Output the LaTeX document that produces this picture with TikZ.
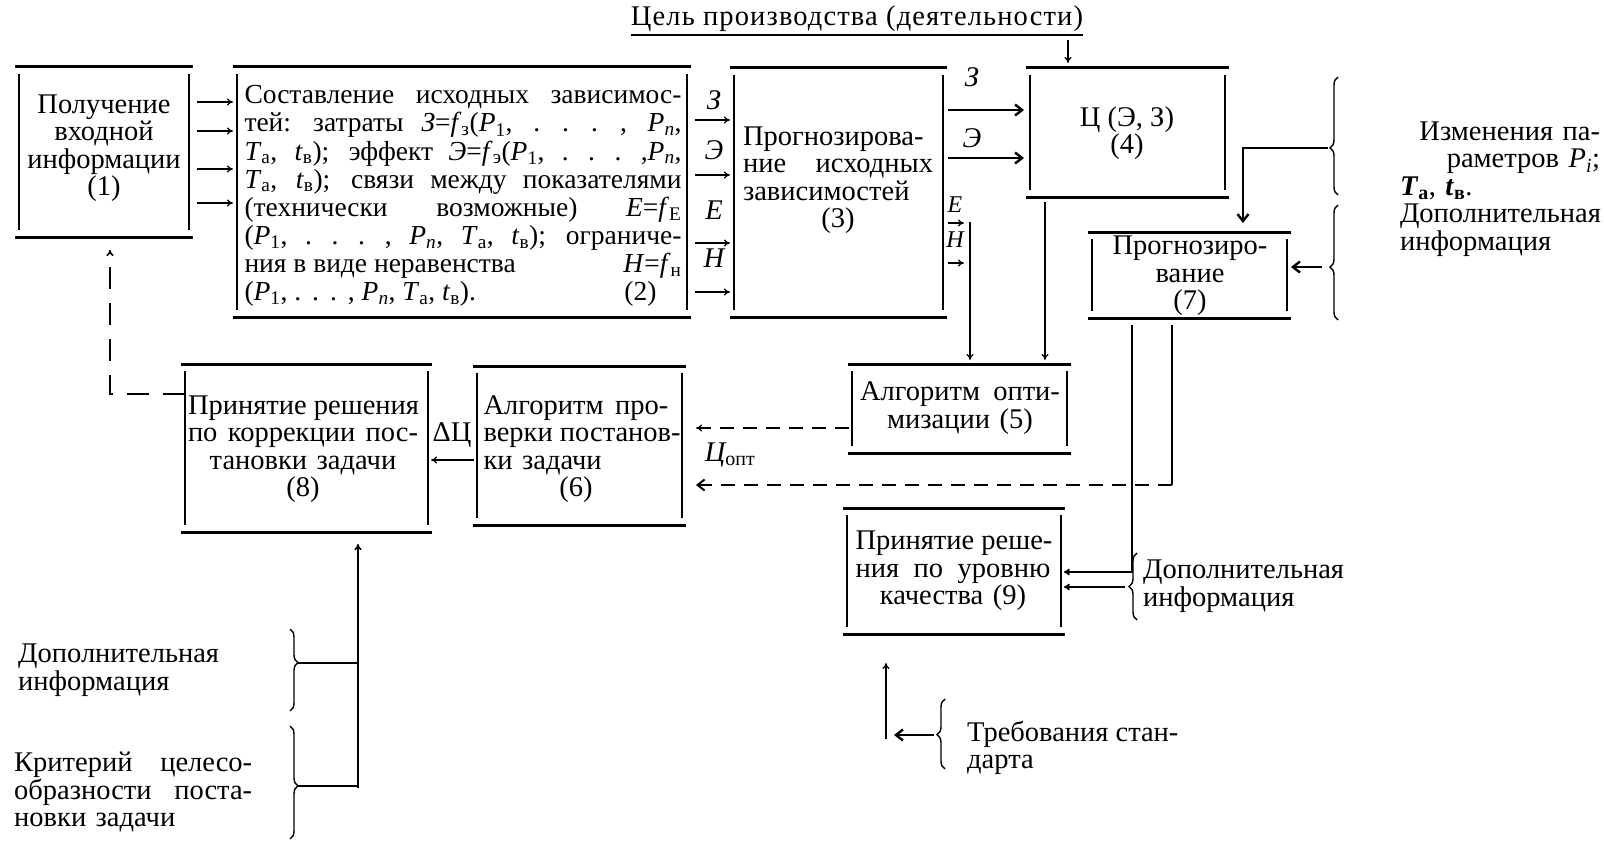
\documentclass[tikz,border=0pt]{standalone}
\usepackage{fontspec}
\setmainfont{Liberation Serif}
\newfontfamily\titlefont[LetterSpace=4]{Liberation Serif}
\usetikzlibrary{arrows.meta,decorations.pathreplacing}

\newcommand{\bodyfont}{\fontsize{28.5}{27.5}\selectfont}
\newcommand{\densefont}{\fontsize{27.5}{28.1}\selectfont}
\newcommand{\smallfont}{\fontsize{24}{24}\selectfont}
% justified line: interword spaces stretch to the full width
\newcommand{\jline}[1]{{\spaceskip=0.25em plus 1fil\relax\xspaceskip=0.4em plus 1fil\relax
    \makebox[\hsize][s]{#1}}}
\newcommand{\lline}[1]{\makebox[\hsize][l]{#1}} % left line
\newcommand{\rline}[1]{\makebox[\hsize][r]{#1}} % right line
\newcommand{\ivar}[1]{\textit{#1}}
\newcommand{\subs}[1]{\textsubscript{#1}}

\begin{document}
\begin{tikzpicture}[
    x=1pt, y=-1pt,
    every node/.style={font=\bodyfont, inner sep=0pt},
    blk/.style={rectangle, inner sep=0pt, outer sep=0pt},
    txt/.style={align=center},
    lbl/.style={font=\bodyfont\itshape},
    small lbl/.style={font=\smallfont\itshape},
    blkbar/.style={line width=3pt},
    blkside/.style={line width=2pt},
    link/.style={line width=1.1pt, -{To[length=6pt,width=7pt]}},
    heavy link/.style={line width=2.4pt, -{Straight Barb[length=7pt,width=11pt]}},
    wire/.style={line width=2pt},
    dash link/.style={link, dash pattern=on 14pt off 9pt},
    dash heavy/.style={heavy link, line width=2pt, dash pattern=on 14pt off 9pt},
    lbrace/.style={decorate, decoration={brace, amplitude=8pt, aspect=#1}, line width=1.4pt}
]
\useasboundingbox (0,0) rectangle (1604,843);

%================BLOCKS================
% name / left / top / right / bottom (px of the scan)
\foreach \bx/\lf/\tp/\rt/\bt in {b1/19/67/189/237, b2/237/67/687/317,
    b3/734/68/943/317, b4/1030/68/1225/197, b5/852/364/1067/453,
    b6/477/366/682/525, b7/1092/232/1287/318, b8/185/364/428/532,
    b9/847/508/1061/634} {
    \node[blk, minimum width={(\rt-\lf)*1pt}, minimum height={(\bt-\tp)*1pt}]
        (\bx) at ({(\lf+\rt)/2},{(\tp+\bt)/2}) {};
    \draw[blkbar] ([xshift=-4pt]\bx.north west) -- ([xshift=4pt]\bx.north east);
    \draw[blkbar] ([xshift=-4pt]\bx.south west) -- ([xshift=4pt]\bx.south east);
    \draw[blkside] ([yshift=-7pt]\bx.north west) -- ([yshift=7pt]\bx.south west);
    \draw[blkside] ([yshift=-7pt]\bx.north east) -- ([yshift=7pt]\bx.south east);
}

% --- block texts ---
\node[txt] (t1) at (104,148) {Получение\\входной\\информации\\(1)};
\node[txt, font=\densefont, text width=437pt] (t2) at (463,196) {%
    \jline{Составление исходных зависимос-}\\
    \jline{тей: затраты \ivar{З}=\ivar{f}\subs{з}(\ivar{P}\subs{1}, . . . , \ivar{P}\subs{\ivar{n}},}\\
    \jline{\ivar{T}\subs{а}, \ivar{t}\subs{в}); эффект \ivar{Э}=\ivar{f}\subs{э}(\ivar{P}\subs{1}, . . . ,\ivar{P}\subs{\ivar{n}},}\\
    \jline{\ivar{T}\subs{а}, \ivar{t}\subs{в}); связи между показателями}\\
    \jline{(технически возможные) \ivar{E}=\ivar{f}\subs{E}}\\
    \jline{(\ivar{P}\subs{1}, . . . , \ivar{P}\subs{\ivar{n}}, \ivar{T}\subs{а}, \ivar{t}\subs{в}); ограниче-}\\
    \jline{ния в виде неравенства\hfill\ivar{H}=\ivar{f}\subs{н}}\\
    \jline{(\ivar{P}\subs{1}, . . . , \ivar{P}\subs{\ivar{n}}, \ivar{T}\subs{а}, \ivar{t}\subs{в}).\hfill(2)\hspace*{25pt}}};
\node[txt, text width=190pt] (t3) at (838,180)
    {\jline{Прогнозирова-}\\\jline{ние исходных}\\\lline{зависимостей}\\(3)};
\node[txt] (t4) at (1127,133) {Ц (Э, З)\\(4)};
\node[txt, text width=200pt] (t5) at (960,408) {\jline{Алгоритм опти-}\\мизации (5)};
\node[txt, text width=185pt] (t6) at (576,449)
    {\jline{Алгоритм про-}\\\jline{верки постанов-}\\\lline{ки задачи}\\(6)};
\node[txt] (t7) at (1190,276) {Прогнозиро-\\вание\\(7)};
\node[txt, text width=230pt] (t8) at (303,449)
    {\jline{Принятие решения}\\\jline{по коррекции пос-}\\тановки задачи\\(8)};
\node[txt, text width=195pt] (t9) at (953,571)
    {\jline{Принятие реше-}\\\jline{ния по уровню}\\качества (9)};

%================GOAL================
\node[font=\fontsize{28.5}{27.5}\titlefont] (goal) at (857,19) {Цель производства (деятельности)};
\draw[line width=1.6pt] ([yshift=-3pt]goal.south west) -- ([yshift=-3pt]goal.south east);
\coordinate (goalin) at (1068,40);
\draw[link, shorten >=5pt] (goalin) -- (goalin |- b4.north);

%================CONNECTORS================
% (1) -> (2)
\foreach \y in {102,131,169,203} {
    \coordinate (lvl) at (0,\y);
    \draw[link, shorten <=8pt, shorten >=4pt] (b1.east |- lvl) -- (b2.west |- lvl);
}
% (2) -> (3)
\foreach \y/\lab/\ly in {120/З/100, 175/Э/150, 243/E/210, 292/H/258} {
    \coordinate (lvl) at (0,\y);
    \draw[link, shorten <=8pt, shorten >=4pt] (b2.east |- lvl) -- (b3.west |- lvl);
    \node[lbl] (a\y) at (714,\ly) {\lab};
}
% (3) -> (4)
\foreach \y/\lab/\ly in {110/З/77, 158/Э/138} {
    \coordinate (lvl) at (0,\y);
    \draw[heavy link, shorten <=5pt, shorten >=6pt] (b3.east |- lvl) -- (b4.west |- lvl);
    \node[lbl] (c\y) at (972,\ly) {\lab};
}
% (3) -> (5): E, H
\node[small lbl] (lE) at (955,205) {E};
\node[small lbl] (lH) at (955,240) {H};
\coordinate (ehbus) at (970,222);
\foreach \y in {223,263} {
    \coordinate (lvl) at (0,\y);
    \draw[link, shorten <=5pt, shorten >=6pt] (b3.east |- lvl) -- (ehbus |- lvl);
}
\draw[link, shorten >=4pt] (ehbus) -- (ehbus |- b5.north);
% (4) -> (5)
\coordinate (cbus) at (1045,0);
\draw[link, shorten <=5pt, shorten >=4pt] (b4.south -| cbus) -- (b5.north -| cbus);

% right braces -> (7)
\draw[lbrace=0.4] (1338,195) -- (1338,77);
\draw[lbrace=0.46] (1338,320) -- (1338,205);
\coordinate (tipA) at (1328,148);
\coordinate (turnA) at (1243,148);
\draw[heavy link, shorten >=9pt] (tipA) -- (turnA) -- (turnA |- b7.north);
\coordinate (tipB) at (1328,267);
\draw[heavy link, shorten <=6pt, shorten >=4pt] (tipB) -- (b7.east |- tipB);
\node[txt, text width=200pt, align=left] (infoR) at (1500,189)
    {\rline{Изменения па-}\\\rline{раметров \ivar{P}\subs{\ivar{i}};}\\
     \textbf{\ivar{T}\subs{а}}, \textbf{\ivar{t}\subs{в}}.\\Дополнительная\\информация};

% (7) -> (6) and (7) -> (9)
\coordinate (fcA) at (1132,0);
\coordinate (fcB) at (1172,485);
\draw[wire, shorten <=7pt] (b7.south -| fcB) -- (fcB);
\draw[dash heavy, shorten >=14pt] (fcB) -- (b6.east |- fcB);
\coordinate (b9in) at (1125,572);
\draw[wire, -{To[length=6pt,width=7pt]}, shorten <=7pt, shorten >=3pt]
    (b7.south -| fcA) -- (fcA |- b9in) -- (b9.east |- b9in);
\draw[lbrace=0.5] (1137,620) -- (1137,553);
\coordinate (tipC) at (1129,587);
\draw[wire, -{To[length=6pt,width=7pt]}, shorten <=4pt, shorten >=3pt] (tipC) -- (b9.east |- tipC);
\node[txt, anchor=west, align=left] (addM) at (1143,586) {Дополнительная\\информация};

% (5) -> (6)
\coordinate (optlvl) at (0,428);
\draw[dash link, shorten <=3pt, shorten >=14pt] (b5.west |- optlvl) -- (b6.east |- optlvl);
\node[lbl] (copt) at (730,455) {Ц\subs{\upshape опт}};

% (6) -> (8)
\coordinate (dlvl) at (0,460);
\draw[link, shorten <=3pt, shorten >=3pt] (b6.west |- dlvl) -- (b8.east |- dlvl);
\node (dc) at (452,435) {ΔЦ};

% (8) -> (1) feedback
\coordinate (fb) at (110,394);
\draw[link, line width=1.6pt, dash pattern=on 22pt off 14pt, shorten >=13pt]
    (b8.west |- fb) -- (fb) -- (fb |- b1.south);

% standard -> (9)
\coordinate (stdv) at (886,739);
\draw[link, shorten >=29pt] (stdv) -- (stdv |- b9.south);
\draw[lbrace=0.49] (945,769) -- (945,699);
\coordinate (tipD) at (937,735);
\draw[heavy link, shorten <=3pt, shorten >=8pt] (tipD) -- (stdv |- tipD);
\node[txt, anchor=west, align=left] (stdtxt) at (967,748) {Требования стан-\\дарта};

% bottom left -> (8)
\draw[lbrace=0.41] (290,629) -- (290,711);
\draw[lbrace=0.53] (290,726) -- (290,839);
\coordinate (colv) at (358,788);
\coordinate (tipE) at (298,663);
\coordinate (tipF) at (298,786);
\draw[wire] (tipE) -- (colv |- tipE);
\draw[wire] (tipF) -- (colv |- tipF);
\draw[link, line width=1.6pt, shorten >=12pt] (colv) -- (colv |- b8.south);
\node[txt, anchor=west, align=left] (addL) at (18,670) {Дополнительная\\информация};
\node[txt, anchor=west, text width=238pt] (critL) at (14,792)
    {\jline{Критерий целесо-}\\\jline{образности поста-}\\\lline{новки задачи}};

\end{tikzpicture}
\end{document}
